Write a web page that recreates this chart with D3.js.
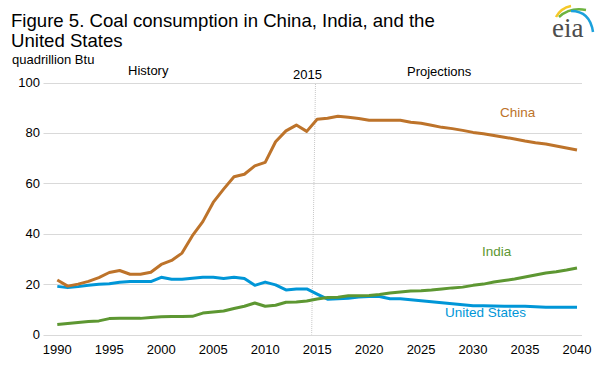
<!DOCTYPE html>
<html>
<head>
<meta charset="utf-8">
<script src="https://cdnjs.cloudflare.com/ajax/libs/d3/7.8.5/d3.min.js"></script>
<style>
  body { margin: 0; background: #fff; }
  svg { font-family: "Liberation Sans", Arial, sans-serif; }
</style>
</head>
<body>
<svg id="chart" width="613" height="370"></svg>
<script>
var years = d3.range(1990, 2041)

var china = [21.6, 19.2, 20.0, 21.1, 22.6, 24.6, 25.4, 23.9, 23.9, 24.7,
  27.8, 29.4, 32.3, 39.2, 44.8, 52.4, 57.7, 62.6, 63.6, 66.9,
  68.3, 76.5, 80.8, 83.1, 80.6, 85.4, 85.8, 86.6, 86.2, 85.7,
  85.0, 85.0, 85.0, 85.0, 84.2, 83.8, 83.0, 82.2, 81.7, 81.0,
  80.2, 79.7, 79.0, 78.3, 77.6, 76.8, 76.1, 75.6, 74.8, 74.0, 73.2]

var india = [4.0, 4.4, 4.8, 5.2, 5.4, 6.3, 6.4, 6.4, 6.4, 6.7,
  7.0, 7.1, 7.1, 7.2, 8.5, 8.9, 9.3, 10.3, 11.2, 12.5,
  11.2, 11.6, 12.8, 12.9, 13.3, 14.1, 14.7, 14.8, 15.4, 15.4,
  15.5, 15.9, 16.5, 16.9, 17.3, 17.4, 17.7, 18.1, 18.5, 18.8,
  19.5, 20.0, 20.8, 21.4, 22.0, 22.8, 23.6, 24.4, 24.9, 25.6, 26.4]

var us = [19.1, 18.6, 19.0, 19.5, 19.9, 20.1, 20.7, 21.0, 21.0, 21.0,
  22.7, 21.9, 21.9, 22.3, 22.7, 22.7, 22.2, 22.7, 22.2, 19.5,
  20.8, 19.7, 17.7, 18.1, 18.1, 16.0, 14.0, 14.2, 14.4, 14.9,
  15.1, 15.1, 14.2, 14.2, 13.8, 13.4, 13.0, 12.6, 12.2, 11.8,
  11.4, 11.4, 11.3, 11.2, 11.2, 11.2, 11.0, 10.8, 10.8, 10.8, 10.8]

var xTicks = d3.range(1990, 2041, 5)
var yTicks = [0, 20, 40, 60, 80, 100]

var series = [
  {name: 'United States', values: us, color: '#0096d7', lx: 445, ly: 317},
  {name: 'India', values: india, color: '#5d9732', lx: 482, ly: 256},
  {name: 'China', values: china, color: '#bd732a', lx: 500, ly: 117}
]

var svg = d3.select('#chart')

var x = d3.scaleLinear().domain([1990, 2040]).range([57.3, 577])
var y = d3.scaleLinear().domain([0, 100]).range([334.5, 82.5])

// title + units
svg.append('text')
  .attr('x', 11).attr('y', 27)
  .style('font-size', '18.6px').style('fill', '#000')
  .text('Figure 5. Coal consumption in China, India, and the')
svg.append('text')
  .attr('x', 11).attr('y', 47)
  .style('font-size', '18.6px').style('fill', '#000')
  .text('United States')
svg.append('text')
  .attr('x', 12).attr('y', 64)
  .style('font-size', '13px').style('fill', '#000')
  .text('quadrillion Btu')

// eia logo
var logo = svg.append('g')
logo.append('path')
  .attr('d', 'M556,17 Q561,8 571,6')
  .attr('fill', 'none').attr('stroke', '#f5c827').attr('stroke-width', 2.5)
logo.append('path')
  .attr('d', 'M559,17 Q570,7 586,10')
  .attr('fill', 'none').attr('stroke', '#6db33f').attr('stroke-width', 2.5)
logo.append('path')
  .attr('d', 'M571,11 Q590,11 593,32')
  .attr('fill', 'none').attr('stroke', '#1ba1dc').attr('stroke-width', 2.5)
logo.append('text')
  .attr('x', 552).attr('y', 37)
  .style('font-family', '"Liberation Serif", "DejaVu Serif", serif')
  .style('font-size', '27px').style('fill', '#4d4d4d')
  .text('eia')

// gridlines
svg.append('g')
  .selectAll('line')
  .data(yTicks)
  .join('line')
  .attr('x1', 43.5).attr('x2', 582)
  .attr('y1', function(d) { return Math.round(y(d)) + 0.5 })
  .attr('y2', function(d) { return Math.round(y(d)) + 0.5 })
  .attr('stroke', '#d9d9d9').attr('stroke-width', 1)

// y labels
svg.append('g')
  .selectAll('text')
  .data(yTicks)
  .join('text')
  .attr('x', 40)
  .attr('y', function(d) { return y(d) + 4.5 })
  .attr('text-anchor', 'end')
  .style('font-size', '13px').style('fill', '#000')
  .text(function(d) { return d })

// x labels
svg.append('g')
  .selectAll('text')
  .data(xTicks)
  .join('text')
  .attr('x', function(d) { return x(d) })
  .attr('y', 354)
  .attr('text-anchor', 'middle')
  .style('font-size', '13px').style('fill', '#000')
  .text(function(d) { return d })

// 2015 divider
svg.append('line')
  .attr('x1', x(2014.84)).attr('y1', 84)
  .attr('x2', x(2014.47)).attr('y2', y(0))
  .attr('stroke', '#c8c8c8').attr('stroke-width', 1)
  .attr('stroke-dasharray', '1,1')

svg.append('text')
  .attr('x', 128).attr('y', 75)
  .style('font-size', '13px').style('fill', '#000')
  .text('History')
svg.append('text')
  .attr('x', 307.5).attr('y', 79)
  .attr('text-anchor', 'middle')
  .style('font-size', '13px').style('fill', '#000')
  .text('2015')
svg.append('text')
  .attr('x', 407).attr('y', 76)
  .style('font-size', '13px').style('fill', '#000')
  .text('Projections')

// lines
var line = d3.line()
  .x(function(d, i) { return x(years[i]) })
  .y(function(d) { return y(d) })

svg.append('g')
  .selectAll('path')
  .data(series)
  .join('path')
  .attr('d', function(d) { return line(d.values) })
  .attr('fill', 'none')
  .attr('stroke', function(d) { return d.color })
  .attr('stroke-width', 3)
  .attr('stroke-linejoin', 'round')

svg.append('g')
  .selectAll('text')
  .data(series)
  .join('text')
  .attr('x', function(d) { return d.lx })
  .attr('y', function(d) { return d.ly })
  .style('font-size', '13.5px')
  .style('fill', function(d) { return d.color })
  .text(function(d) { return d.name })
</script>
</body>
</html>
